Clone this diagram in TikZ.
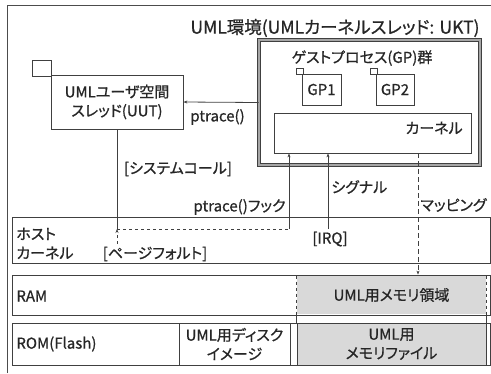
\documentclass[tikz,border=0pt]{standalone}
\usepackage{fontspec}
\setmainfont{Noto Sans CJK JP}[RawFeature=+palt, BoldFont={Noto Sans CJK JP}, BoldFeatures={FakeBold=0.8}]
\usetikzlibrary{arrows.meta}

\tikzset{every path/.style={line width=0.8pt}}
\tikzset{
  box/.style={draw=black!75, rectangle, inner sep=0pt},
  lbl/.style={font=\fontsize{15}{19}\selectfont\bfseries, inner sep=0pt, text=black!85},
  link/.style={draw=black!75, -{Stealth[length=4pt,width=3pt]}},
  memfill/.style={fill=black!15}
}

\begin{document}
\begin{tikzpicture}[x=1pt,y=-1pt]
\useasboundingbox (0,0) rectangle (491,373);
% frame of the UML environment
\draw[black!70, line width=1pt] (7,373) -- (7,5) -- (491,5);
\node[lbl, font=\fontsize{17.5}{19}\selectfont\bfseries] (title) at (335,28) {UML環境(UMLカーネルスレッド: UKT)};

% user space thread
\draw[black!75] (32,60) rectangle (51,76);
\node[box, fill=white, lbl, align=center, minimum width=132pt, minimum height=54pt] (uut) at (117,102) {UMLユーザ空間\\スレッド(UUT)};

% kernel thread
\node[draw=black!75, double=black!35, double distance=2.5pt, line width=0.9pt, minimum width=221pt, minimum height=125pt] (ukt) at (369.5,102.5) {};
\node[lbl] (guest) at (362,58) {ゲストプロセス(GP)群};
\draw[black!75] (296,68) rectangle (303,74);
\node[box, fill=white, lbl, minimum width=39pt, minimum height=31pt] (gpA) at (321.5,89.5) {GP1};
\draw[black!75] (370,68) rectangle (377,74);
\node[box, fill=white, lbl, minimum width=38pt, minimum height=31pt] (gpB) at (395,89.5) {GP2};
\node[box, minimum width=197pt, minimum height=40pt] (kern) at (372.5,133) {};
\node[lbl, anchor=east] (kerntext) at (463,128) {カーネル};

% host side
\node[box, minimum width=478pt, minimum height=46pt] (host) at (251,240) {};
\node[lbl, anchor=west, align=left] (hostlbl) at (16,243.5) {ホスト\\カーネル};
\node[lbl] (faultlbl) at (155,254) {[ページフォルト]};
\node[box, minimum width=478pt, minimum height=40pt] (ram) at (251,295) {};
\node[lbl, anchor=west] (ramlbl) at (16,296) {RAM};
\node[memfill, lbl, inner sep=0pt, minimum width=189pt, minimum height=38pt] (memarea) at (391.5,295) {UML用メモリ領域};
\node[box, minimum width=478pt, minimum height=42pt] (rom) at (251,344) {};
\node[lbl, anchor=west] (romlbl) at (16,344) {ROM(Flash)};
\node[box, lbl, align=center, minimum width=111pt, minimum height=42pt] (disk) at (234.5,344) {UML用ディスク\\イメージ};
\node[box, memfill, lbl, align=center, minimum width=189pt, minimum height=42pt] (memfile) at (391.5,344) {UML用\\メモリファイル};
\draw[black!75, dashed] (memarea.north west) -- (memarea.south west);
\draw[black!75, dashed] (memarea.north east) -- (memarea.south east);
\draw[black!75] (memarea.south west) -- (memfile.north west);
\draw[black!75] (memarea.south east) -- (memfile.north east);

% connectors
\coordinate (fork) at (117,229);
\coordinate (fault) at (117,244);
\coordinate (hookbase) at (289,229);
\coordinate (irq) at (328,229);
\coordinate (mapx) at (418,200);
\draw[link] (ukt.west) -- (uut.east);
\draw[black!75] (uut.south) -- (fork);
\draw[link, dashed] (fault) -- (fork);
\draw[black!75, dashed] (fork) -- (hookbase);
\draw[link] (hookbase) -- (hookbase |- kern.south);
\draw[link] (irq) -- (irq |- kern.south);
\draw[link, dash pattern=on 5pt off 3pt] (mapx |- kern.south) -- (mapx |- ram.north);

% labels of the connectors
\node[lbl, anchor=west] (ptracelbl) at (190,117) {ptrace()};
\node[lbl] (syscall) at (178,169) {[システムコール]};
\node[lbl, anchor=east] (hooklbl) at (286,207) {ptrace()フック};
\node[lbl, anchor=west] (siglbl) at (331,187) {シグナル};
\node[lbl] (irqlbl) at (330,239) {[IRQ]};
\node[lbl, anchor=west] (maplbl) at (420,205) {マッピング};
\end{tikzpicture}
\end{document}
